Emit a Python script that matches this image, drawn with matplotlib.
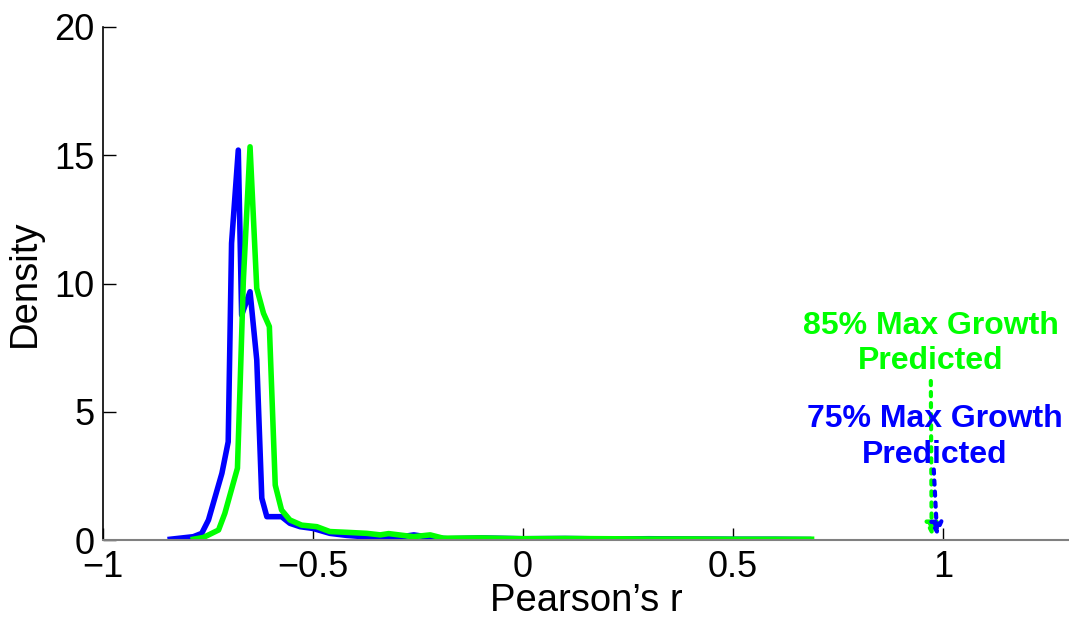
import matplotlib
matplotlib.use('Agg')
import matplotlib.pyplot as plt

plt.rcParams['font.family'] = ['Liberation Sans', 'DejaVu Sans']

# density of Pearson's r, 75% max growth
r_75 = [-0.840, -0.785, -0.765, -0.749, -0.733, -0.717, -0.702, -0.694, -0.678, -0.670,
        -0.650, -0.634, -0.622, -0.610, -0.575, -0.555, -0.531, -0.50, -0.46, -0.42,
        -0.38, -0.34, -0.30, -0.26, -0.22, -0.18, -0.1, 0.0, 0.1, 0.2,
        0.3, 0.4, 0.5, 0.6, 0.68]
dens_75 = [0.03, 0.13, 0.26, 0.78, 1.69, 2.6, 3.83, 11.57, 15.2, 8.77,
           9.68, 7.02, 1.63, 0.91, 0.91, 0.65, 0.52, 0.45, 0.26, 0.18,
           0.13, 0.03, 0.10, 0.2, 0.1, 0.05, 0.08, 0.05, 0.06, 0.04,
           0.05, 0.04, 0.03, 0.03, 0.02]

# density of Pearson's r, 85% max growth
r_85 = [-0.785, -0.761, -0.725, -0.710, -0.680, -0.674, -0.666, -0.650, -0.634, -0.618,
        -0.604, -0.590, -0.575, -0.555, -0.527, -0.491, -0.460, -0.42, -0.372, -0.340,
        -0.32, -0.261, -0.221, -0.19, -0.1, 0.0, 0.1, 0.2, 0.3, 0.4,
        0.5, 0.6, 0.687]
dens_85 = [0.03, 0.1, 0.39, 1.04, 2.8, 5.85, 10.1, 15.33, 9.81, 8.84,
           8.32, 2.14, 1.17, 0.78, 0.58, 0.52, 0.33, 0.30, 0.26, 0.2,
           0.25, 0.13, 0.2, 0.07, 0.08, 0.05, 0.06, 0.05, 0.04, 0.04,
           0.03, 0.03, 0.03]

# predicted r for each growth threshold
pred_75 = 0.986
pred_85 = 0.973

blue = (0, 0, 1)
green = (0, 1, 0)

fig = plt.figure(figsize=(10.69, 6.19), dpi=100)
ax = fig.add_axes([0.0964, 0.1276, 0.9036, 0.8288])

ax.plot(r_75, dens_75, color=blue, lw=4, solid_joinstyle='round')
ax.plot(r_85, dens_85, color=green, lw=4, solid_joinstyle='round')

ax.annotate('', xy=(pred_85, 0.15), xytext=(0.971, 6.2),
            arrowprops=dict(arrowstyle='-|>', linestyle=':', lw=3, color=green,
                            mutation_scale=18, shrinkA=0, shrinkB=0))
ax.annotate('', xy=(pred_75, 0.15), xytext=(0.978, 2.75),
            arrowprops=dict(arrowstyle='-|>', linestyle=':', lw=3, color=blue,
                            mutation_scale=18, shrinkA=0, shrinkB=0))

ax.text(0.971, 7.66, '85% Max Growth\nPredicted', color=green, fontsize=23,
        fontweight='bold', ha='center', va='center', linespacing=1.25)
ax.text(0.981, 4.03, '75% Max Growth\nPredicted', color=blue, fontsize=23,
        fontweight='bold', ha='center', va='center', linespacing=1.25)

ax.set_xlim(-1, 1.3)
ax.set_ylim(0, 20)
ax.set_xticks([-1, -0.5, 0, 0.5, 1])
ax.set_xticklabels(['\u22121', '\u22120.5', '0', '0.5', '1'])
ax.set_yticks([0, 5, 10, 15, 20])

ax.spines['top'].set_visible(False)
ax.spines['right'].set_visible(False)
ax.spines['bottom'].set_color('#808080')
ax.spines['bottom'].set_linewidth(1.5)
ax.spines['left'].set_linewidth(1.2)
ax.tick_params(direction='in', length=9, width=1, labelsize=26)
ax.tick_params(axis='x', pad=7.5)
ax.tick_params(axis='y', pad=6)

ax.set_xlabel('Pearson\u2019s r', fontsize=27.5, labelpad=-2)
ax.set_ylabel('Density', fontsize=27.5, labelpad=8)

fig.savefig('out.png', dpi=100)
